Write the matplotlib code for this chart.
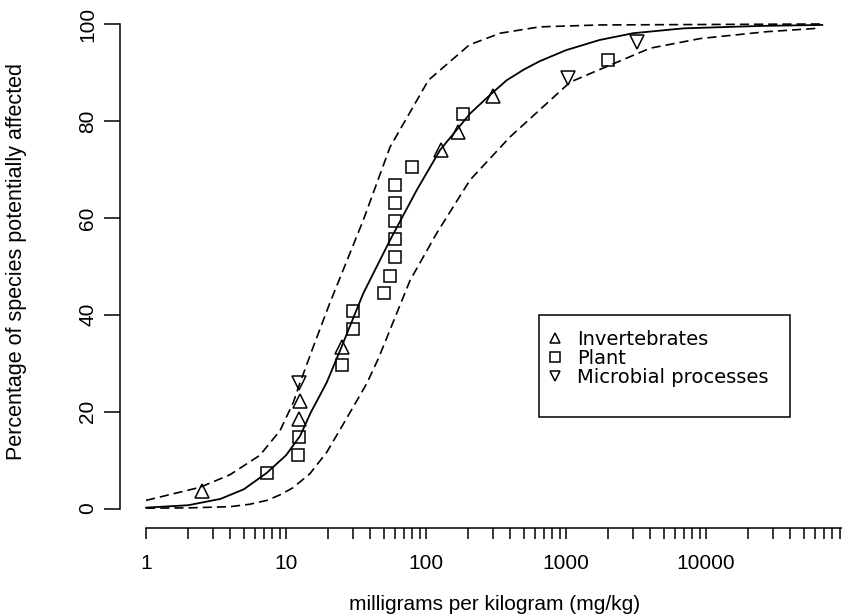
import matplotlib
matplotlib.use("Agg")
import matplotlib.pyplot as plt
from matplotlib import font_manager
from matplotlib.patches import Rectangle
from matplotlib.ticker import FixedLocator, NullFormatter

# Species sensitivity data (mg/kg) and plotted percentage positions
invert_x = [2.5, 12.4, 12.6, 25.0, 128, 170, 299]
invert_y = [3.7, 18.5, 22.2, 33.3, 74.1, 77.8, 85.2]

plant_x = [7.3, 12.1, 12.4, 25.0, 30.3, 30.3, 50.4, 55.0, 60, 60, 60, 60, 60, 79, 185, 1995]
plant_y = [7.4, 11.1, 14.8, 29.6, 37.0, 40.7, 44.4, 48.1, 51.9, 55.6, 59.3, 63.0, 66.7, 70.4, 81.5, 92.6]

microbe_x = [12.4, 1030, 3200]
microbe_y = [25.9, 88.9, 96.3]

# Fitted distribution and its confidence band
fit_x = [1, 2, 3.4, 5, 7.3, 10, 12.6, 15, 19.5, 24.3, 35.6, 55.3, 85.7, 126, 206,
         290, 377, 500, 646, 1000, 1738, 3020, 6918, 24547, 67600]
fit_y = [0.2, 0.7, 2.0, 4.0, 7.4, 11.0, 15.0, 19.8, 26.0, 32.6, 44.4, 55.4, 65.7,
         74.0, 81.5, 85.5, 88.4, 90.6, 92.3, 94.6, 96.7, 98.1, 99.1, 99.6, 99.8]

upper_x = [1, 2.43, 3.98, 6.5, 9.06, 11.3, 12.6, 15.7, 20.6, 35.6, 55.3, 104, 204,
           339, 646, 1738, 67600]
upper_y = [1.7, 4.4, 7.0, 11.0, 16.1, 22.0, 26.0, 33.5, 42.5, 59.5, 74.6, 88.4,
           95.7, 98.1, 99.4, 99.8, 100.0]

lower_x = [1, 2, 3.98, 5.5, 7.3, 9.0, 11.2, 14.8, 19.5, 25.7, 37.7, 45.7, 76.9, 119,
           206, 398, 1069, 1738, 3981, 9120, 26900, 61700]
lower_y = [0.1, 0.15, 0.4, 0.9, 1.7, 2.8, 4.3, 7.2, 11.6, 17.5, 25.8, 31.0, 47.1,
           56.8, 67.8, 76.7, 88.0, 90.6, 95.0, 97.0, 98.4, 99.1]

xticks = [1, 10, 100, 1000, 10000]
xtick_labels = ["1", "10", "100", "1000", "10000"]
yticks = [0, 20, 40, 60, 80, 100]
ytick_labels = ["0", "20", "40", "60", "80", "100"]

available = {f.name for f in font_manager.fontManager.ttflist}
narrow = "Liberation Sans Narrow" if "Liberation Sans Narrow" in available else "Liberation Sans"

W, H = 842, 614
fig = plt.figure(figsize=(W / 100, H / 100), dpi=100)
fig.patch.set_facecolor("white")

left_px, right_px, top_px, bottom_px = 120, 842, 4.6, 528
ax = fig.add_axes([left_px / W, 1 - bottom_px / H,
                   (right_px - left_px) / W, (bottom_px - top_px) / H])

ax.set_xscale("log")
xmax = 10 ** 4.971
ax.set_xlim(10 ** -0.186, xmax)
ax.set_ylim(-4, 104)

dash = (0, (5.5, 3.0))
ax.plot(fit_x, fit_y, color="black", lw=1.3, solid_joinstyle="round")
ax.plot(upper_x, upper_y, color="black", lw=1.2, linestyle=dash)
ax.plot(lower_x, lower_y, color="black", lw=1.2, linestyle=dash)

mk = dict(linestyle="none", markerfacecolor="none", markeredgecolor="black",
          markeredgewidth=1.1)
ax.plot(invert_x, invert_y, marker="^", markersize=9.5, label="Invertebrates", **mk)
ax.plot(plant_x, plant_y, marker="s", markersize=8.5, label="Plant", **mk)
ax.plot(microbe_x, microbe_y, marker="v", markersize=9.5,
        label="Microbial processes", **mk)

for side in ("top", "right"):
    ax.spines[side].set_visible(False)
for side in ("left", "bottom"):
    ax.spines[side].set_linewidth(1.1)
ax.spines["left"].set_bounds(0, 100)
ax.spines["bottom"].set_bounds(1, xmax)

ax.set_xticks(xticks)
ax.set_xticklabels(xtick_labels, fontsize=15, family="Liberation Sans")
minor = [m * 10 ** d for d in range(0, 5) for m in range(2, 10)]
ax.xaxis.set_minor_locator(FixedLocator(minor))
ax.xaxis.set_minor_formatter(NullFormatter())
ax.tick_params(axis="x", which="major", direction="out", length=8, width=1.1, pad=11)
ax.tick_params(axis="x", which="minor", direction="out", length=8, width=1.1)

ax.set_yticks(yticks)
ax.set_yticklabels(ytick_labels, fontsize=15, family=narrow, rotation=90, va="center")
ax.tick_params(axis="y", direction="out", length=11.5, width=1.1, pad=5)

fig.text(495 / W, 1 - 604 / H, "milligrams per kilogram (mg/kg)", ha="center",
         va="center", fontsize=15, family="Liberation Sans")
fig.text(17 / W, 1 - 262 / H, "Percentage of species potentially affected",
         rotation=90, ha="center", va="center", fontsize=15.5, family=narrow)

# Legend entries without a frame; the box is drawn separately with R-like padding
leg = ax.legend(loc="upper left", bbox_to_anchor=(545 / W, 1 - 330 / H),
                bbox_transform=fig.transFigure, frameon=False, markerscale=0.8,
                handlelength=1.0, handletextpad=0.65,
                borderpad=0.0, labelspacing=0.0, borderaxespad=0,
                prop={"family": "DejaVu Sans", "size": 14})
box = Rectangle((539 / W, 1 - 417 / H), (790 - 539) / W, (417 - 315) / H,
                transform=fig.transFigure, fill=False, edgecolor="black",
                linewidth=1.1)
fig.add_artist(box)

fig.savefig("out.png", dpi=100, facecolor="white")
